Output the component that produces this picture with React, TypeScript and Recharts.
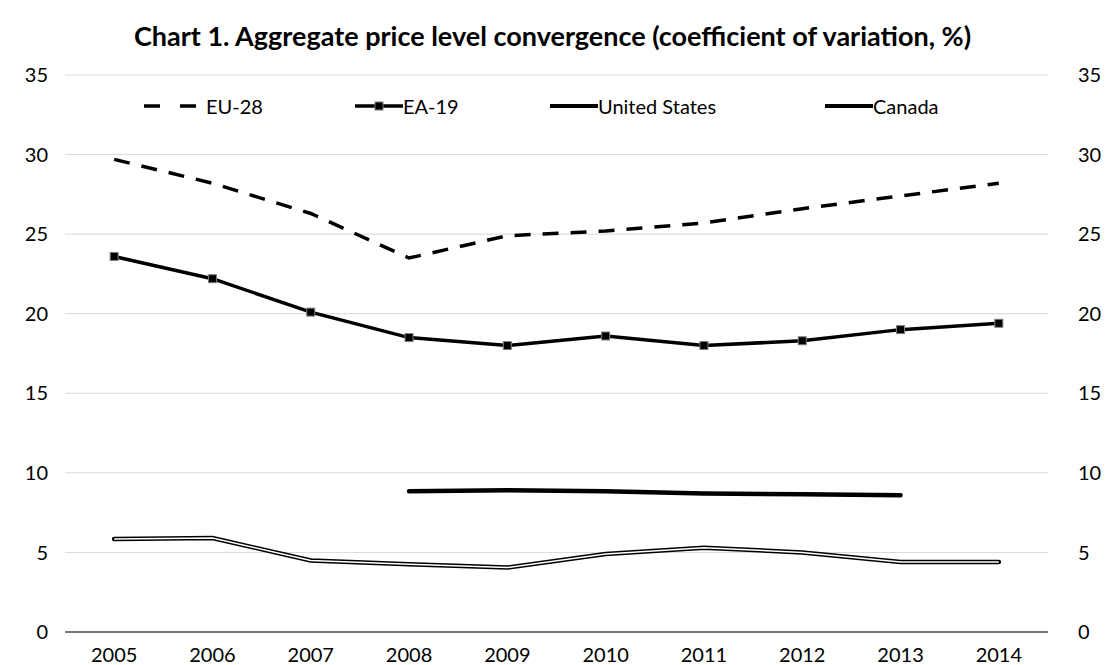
import { LineChart, Line, XAxis, YAxis, CartesianGrid, Legend } from "recharts";

const years = ["2005", "2006", "2007", "2008", "2009", "2010", "2011", "2012", "2013", "2014"];
const eu28 = [29.7, 28.2, 26.3, 23.5, 24.9, 25.2, 25.7, 26.6, 27.4, 28.2];
const ea19 = [23.6, 22.2, 20.1, 18.5, 18.0, 18.6, 18.0, 18.3, 19.0, 19.4];
const unitedStates = [5.85, 5.9, 4.5, 4.25, 4.05, 4.9, 5.3, 5.0, 4.4, 4.4];
const canada = [null, null, null, 8.85, 8.9, 8.85, 8.7, 8.65, 8.6, null];
const yTicks = [0, 5, 10, 15, 20, 25, 30, 35];
const edgeTicks = [0, 1, 2, 3, 4, 5, 6, 7, 8, 9, 10];

const data = years.map((year, i) => ({
  year,
  eu28: eu28[i],
  ea19: ea19[i],
  us: unitedStates[i],
  canada: canada[i],
}));

const FONT = "Lato, 'Open Sans', sans-serif";
const tickStyle = { fill: "#000", fontSize: 20, fontFamily: FONT };

const Square = (props: any) => {
  const { cx, cy } = props;
  if (cx == null || cy == null) return null;
  return <rect x={cx - 4} y={cy - 4} width={8} height={8} fill="#000" stroke="#7f7f7f" strokeWidth={1} />;
};

const legendItems = [
  { label: "EU-28", left: 142, kind: "dash" },
  { label: "EA-19", left: 355, kind: "marker" },
  { label: "United States", left: 550, kind: "solid" },
  { label: "Canada", left: 825, kind: "solid" },
];

function LegendContent() {
  return (
    <div style={{ position: "relative", height: 26, fontFamily: FONT, fontSize: 20, color: "#000" }}>
      {legendItems.map((item) => (
        <div key={item.label} style={{ position: "absolute", left: item.left, top: 0, display: "flex", alignItems: "center", whiteSpace: "nowrap" }}>
          <svg width={item.kind === "dash" ? 64 : 48} height={24}>
            {item.kind === "dash" && (
              <line x1={2} y1={12} x2={62} y2={12} stroke="#000" strokeWidth={3.5} strokeDasharray="16 20" />
            )}
            {item.kind === "marker" && (
              <>
                <line x1={0} y1={12} x2={48} y2={12} stroke="#000" strokeWidth={3.5} />
                <rect x={20} y={8} width={8} height={8} fill="#000" stroke="#7f7f7f" />
              </>
            )}
            {item.kind === "solid" && <line x1={0} y1={12} x2={48} y2={12} stroke="#000" strokeWidth={4} />}
          </svg>
          <span>{item.label}</span>
        </div>
      ))}
    </div>
  );
}

export default function App() {
  return (
    <div style={{ position: "absolute", left: 0, top: 0, width: 1105, height: 665, background: "#fff" }}>
      <div
        style={{
          position: "absolute",
          top: 20,
          left: 0,
          width: 1105,
          textAlign: "center",
          fontFamily: FONT,
          fontWeight: "bold",
          fontSize: 27,
          lineHeight: "32px",
          color: "#000",
        }}
      >
        Chart 1. Aggregate price level convergence (coefficient of variation, %)
      </div>
      <LineChart width={1105} height={665} data={data} margin={{ top: 49, right: 0, left: 0, bottom: 0 }}>
        <CartesianGrid horizontal vertical={false} stroke="#d9d9d9" yAxisId="left" />
        <XAxis
          xAxisId="a_edges"
          type="number"
          domain={[0, 10]}
          allowDataOverflow
          ticks={edgeTicks}
          tick={false}
          tickSize={-7}
          height={1}
          axisLine={{ stroke: "#000", strokeWidth: 1 }}
          tickLine={{ stroke: "#000", strokeWidth: 1 }}
        />
        <XAxis
          xAxisId="b_years"
          dataKey="year"
          scale="band"
          height={32}
          axisLine={false}
          tickLine={false}
          tickSize={0}
          tickMargin={15}
          interval={0}
          tick={tickStyle}
        />
        <YAxis
          yAxisId="left"
          width={65}
          domain={[0, 35]}
          ticks={yTicks}
          axisLine={false}
          tickLine={false}
          tickSize={0}
          tickMargin={17}
          tick={tickStyle}
        />
        <YAxis
          yAxisId="right"
          orientation="right"
          width={57}
          domain={[0, 35]}
          allowDataOverflow
          ticks={yTicks}
          axisLine={false}
          tickLine={false}
          tickSize={0}
          tickMargin={30}
          tick={tickStyle}
        />
        <Legend
          verticalAlign="top"
          content={<LegendContent />}
          wrapperStyle={{ position: "absolute", top: 94, left: 0, width: 1105 }}
        />
        <Line
          xAxisId="b_years"
          yAxisId="left"
          dataKey="eu28"
          stroke="#000"
          strokeWidth={3.5}
          strokeDasharray="16 12"
          dot={false}
          isAnimationActive={false}
        />
        <Line
          xAxisId="b_years"
          yAxisId="left"
          dataKey="ea19"
          stroke="#000"
          strokeWidth={3.5}
          dot={<Square />}
          isAnimationActive={false}
        />
        <Line
          xAxisId="b_years"
          yAxisId="left"
          dataKey="us"
          stroke="#000"
          strokeWidth={4.5}
          strokeLinecap="round"
          dot={false}
          isAnimationActive={false}
        />
        <Line
          xAxisId="b_years"
          yAxisId="left"
          dataKey="us"
          stroke="#fff"
          strokeWidth={1.5}
          dot={false}
          legendType="none"
          isAnimationActive={false}
        />
        <Line
          xAxisId="b_years"
          yAxisId="left"
          dataKey="canada"
          stroke="#000"
          strokeWidth={4.5}
          strokeLinecap="round"
          dot={false}
          isAnimationActive={false}
        />
      </LineChart>
    </div>
  );
}
